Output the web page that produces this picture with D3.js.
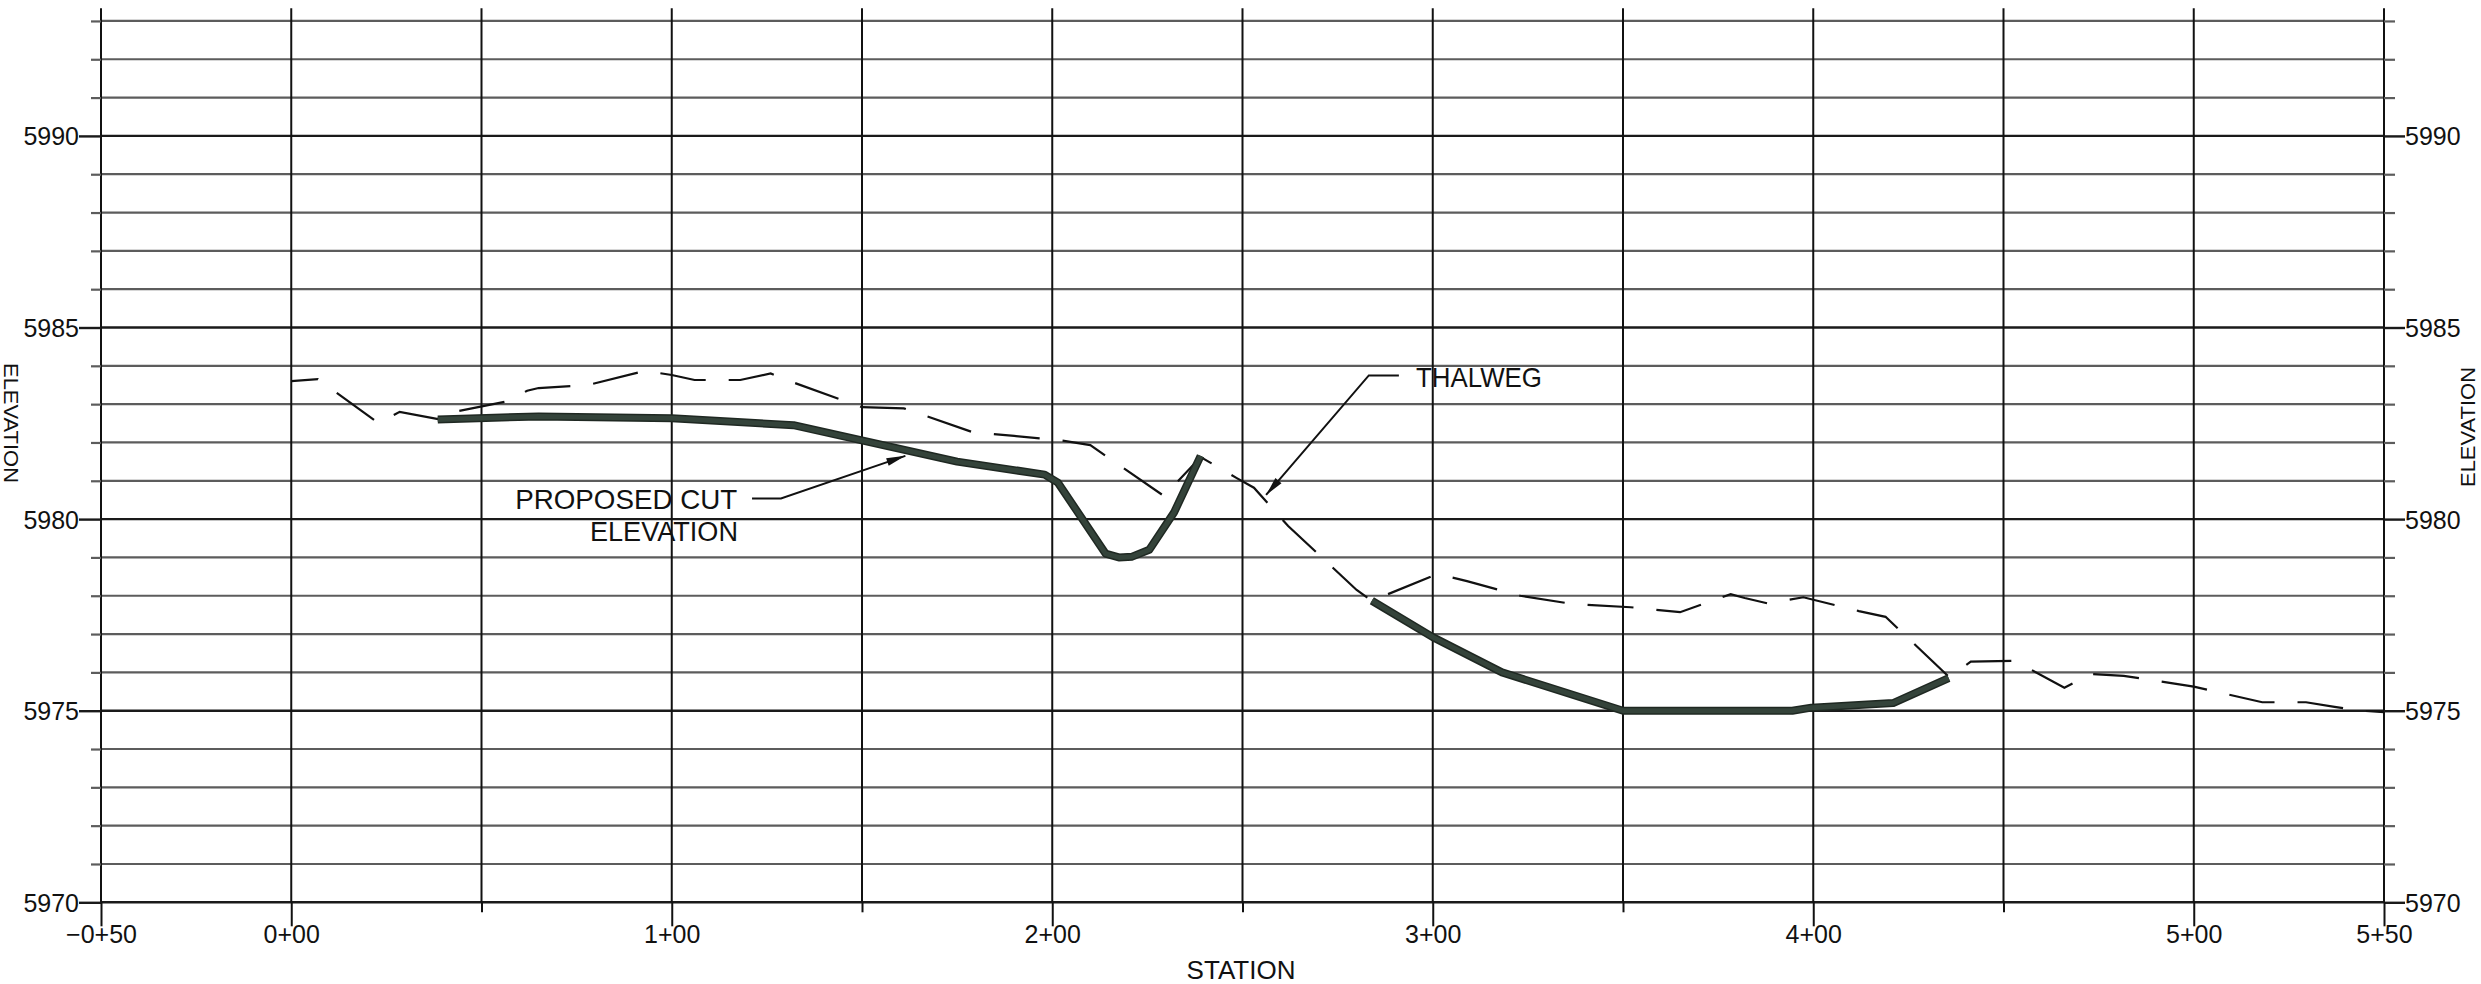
<!DOCTYPE html>
<html><head><meta charset="utf-8">
<script src="https://cdn.jsdelivr.net/npm/d3@7"></script>
<style>
html,body{margin:0;padding:0;background:#fff;}
svg{display:block;background:#fff;}
text{font-family:"Liberation Sans",Arial,Helvetica,sans-serif;fill:#111;}
</style></head><body>
<svg id="chart" width="2481" height="984"></svg>
<script>
// ---------------- data ----------------
const stationTicks  = [-50, 0, 50, 100, 150, 200, 250, 300, 350, 400, 450, 500, 550];
const stationLabels = ["\u22120+50", "0+00", "", "1+00", "", "2+00", "", "3+00", "", "4+00", "", "5+00", "5+50"];

const elevationTicks  = [5970, 5971, 5972, 5973, 5974, 5975, 5976, 5977, 5978, 5979, 5980, 5981,
                         5982, 5983, 5984, 5985, 5986, 5987, 5988, 5989, 5990, 5991, 5992, 5993];
const elevationLabels = ["5970", "", "", "", "", "5975", "", "", "", "", "5980", "",
                         "", "", "", "5985", "", "", "", "", "5990", "", "", ""];

// Proposed cut elevation (two pieces)
const cut1Station   = [38.5, 65, 100, 132, 175, 198, 201.5, 214, 217.5, 221, 225.5, 232, 239];
const cut1Elevation = [5982.60, 5982.68, 5982.63, 5982.45, 5981.50, 5981.16, 5980.95, 5979.10, 5979.00, 5979.02, 5979.20, 5980.17, 5981.65];
const cut2Station   = [284, 300, 318.2, 350, 394.5, 399.5, 421, 435.6];
const cut2Elevation = [5977.87, 5976.92, 5976.00, 5975.00, 5975.00, 5975.08, 5975.20, 5975.85];

// Thalweg (existing ground, dashed)
const thalwegStation   = [0, 7, 23, 28.5, 39, 43, 57, 62, 65, 78, 93, 100, 106, 118, 126, 131,
                          150, 161, 179, 190, 202, 210, 229.4, 239, 248.5, 253, 262, 280, 284,
                          301.3, 309, 323, 337, 352, 365, 378.3, 382, 388, 397.4, 406, 412, 419,
                          435.7, 441.4, 453, 466, 473, 481.6, 500, 518, 529.5, 537, 544, 550];
const thalwegElevation = [5983.60, 5983.65, 5982.50, 5982.80, 5982.60, 5982.80, 5983.08, 5983.35, 5983.42, 5983.50, 5983.87, 5983.76, 5983.63, 5983.63, 5983.80, 5983.60,
                          5982.92, 5982.89, 5982.27, 5982.17, 5982.06, 5981.93, 5980.60, 5981.62, 5981.07, 5980.82, 5979.82, 5978.15, 5977.87,
                          5978.57, 5978.38, 5978.00, 5977.78, 5977.70, 5977.57, 5978.04, 5977.94, 5977.80, 5977.96, 5977.75, 5977.60, 5977.45,
                          5975.88, 5976.28, 5976.30, 5975.60, 5975.96, 5975.91, 5975.63, 5975.22, 5975.22, 5975.10, 5975.00, 5974.96];

// ---------------- chart ----------------
const svg = d3.select("#chart");
const x = d3.scaleLinear().domain([-50, 550]).range([101, 2384]);
const y = d3.scaleLinear().domain([5970, 5993.33]).range([902.3, 8.3]);
const isMajorE = (d, i) => elevationLabels[i] !== "";

// horizontal grid
svg.append("g").selectAll("line").data(elevationTicks).join("line")
  .attr("x1", x(-50)).attr("x2", x(550))
  .attr("y1", d => y(d)).attr("y2", d => y(d))
  .attr("stroke", (d, i) => isMajorE(d, i) ? "#1a1a1a" : "#5c5c5c")
  .attr("stroke-width", (d, i) => isMajorE(d, i) ? 2.4 : 2.2);

// vertical grid
svg.append("g").selectAll("line").data(stationTicks).join("line")
  .attr("x1", d => x(d)).attr("x2", d => x(d))
  .attr("y1", y(5993.33)).attr("y2", y(5970))
  .attr("stroke", "#111").attr("stroke-width", 2);

function styleAxis(g) {
  g.attr("font-family", null).attr("font-size", null);
  g.select(".domain").remove();
}

// left axis
const gL = svg.append("g").attr("transform", `translate(${x(-50)},0)`)
  .call(d3.axisLeft(y).tickValues(elevationTicks).tickFormat((d, i) => elevationLabels[i]).tickSizeOuter(0));
styleAxis(gL);
gL.selectAll(".tick line")
  .attr("x2", (d, i) => isMajorE(d, i) ? -22 : -10)
  .attr("stroke", (d, i) => isMajorE(d, i) ? "#1a1a1a" : "#5c5c5c")
  .attr("stroke-width", (d, i) => isMajorE(d, i) ? 2.4 : 2.2);
gL.selectAll(".tick text").attr("x", -22).attr("dy", "0.36em").style("font-size", "25px");

// right axis
const gR = svg.append("g").attr("transform", `translate(${x(550)},0)`)
  .call(d3.axisRight(y).tickValues(elevationTicks).tickFormat((d, i) => elevationLabels[i]).tickSizeOuter(0));
styleAxis(gR);
gR.selectAll(".tick line")
  .attr("x2", (d, i) => isMajorE(d, i) ? 21 : 11)
  .attr("stroke", (d, i) => isMajorE(d, i) ? "#1a1a1a" : "#5c5c5c")
  .attr("stroke-width", (d, i) => isMajorE(d, i) ? 2.4 : 2.2);
gR.selectAll(".tick text").attr("x", 21).attr("dy", "0.36em").style("font-size", "25px");

// bottom axis
const gB = svg.append("g").attr("transform", `translate(0,${y(5970)})`)
  .call(d3.axisBottom(x).tickValues(stationTicks).tickFormat((d, i) => stationLabels[i]).tickSizeOuter(0));
styleAxis(gB);
gB.selectAll(".tick line")
  .attr("y2", (d, i) => stationLabels[i] ? 24 : 10)
  .attr("stroke", "#111").attr("stroke-width", 2);
gB.selectAll(".tick text").attr("y", 41).attr("dy", 0).style("font-size", "25px");

// axis titles
svg.append("text").attr("x", 1241).attr("y", 979).attr("text-anchor", "middle")
  .style("font-size", "26px").text("STATION");
svg.append("text").attr("transform", "translate(4,423) rotate(90)").attr("text-anchor", "middle")
  .attr("textLength", 120).attr("lengthAdjust", "spacingAndGlyphs")
  .style("font-size", "20px").text("ELEVATION");
svg.append("text").attr("transform", "translate(2475,427) rotate(-90)").attr("text-anchor", "middle")
  .attr("textLength", 120).attr("lengthAdjust", "spacingAndGlyphs")
  .style("font-size", "20px").text("ELEVATION");

// series
const line = d3.line().x(d => x(d[0])).y(d => y(d[1]));
const zip = (a, b) => a.map((v, i) => [v, b[i]]);

svg.append("path").datum(zip(thalwegStation, thalwegElevation))
  .attr("d", line).attr("fill", "none").attr("stroke", "#111")
  .attr("stroke-width", 2.2).attr("stroke-dasharray", "46 23").attr("stroke-dashoffset", 19);

[zip(cut1Station, cut1Elevation), zip(cut2Station, cut2Elevation)].forEach(seg => {
  svg.append("path").datum(seg).attr("d", line).attr("fill", "none")
    .attr("stroke", "#1f2822").attr("stroke-width", 8).attr("stroke-linejoin", "round");
  svg.append("path").datum(seg).attr("d", line).attr("fill", "none")
    .attr("stroke", "#34433a").attr("stroke-width", 5).attr("stroke-linejoin", "round");
});

// annotations (positions in data units)
function arrowHead(tip, from) {
  const tx = x(tip[0]), ty = y(tip[1]), fx = x(from[0]), fy = y(from[1]);
  const dx = tx - fx, dy = ty - fy, L = Math.hypot(dx, dy), ux = dx / L, uy = dy / L;
  const len = 19, hw = 4;
  const bx = tx - ux * len, by = ty - uy * len;
  return `M${tx},${ty}L${bx - uy * hw},${by + ux * hw}L${bx + uy * hw},${by - ux * hw}Z`;
}
const annots = [
  { pts: [[121.1, 5980.54], [128.7, 5980.54], [161.4, 5981.65]] },
  { pts: [[291.1, 5983.75], [283.2, 5983.75], [256.2, 5980.63]] }
];
annots.forEach(a => {
  svg.append("path").attr("d", line(a.pts)).attr("fill", "none").attr("stroke", "#111").attr("stroke-width", 2);
  svg.append("path").attr("d", arrowHead(a.pts[2], a.pts[1])).attr("fill", "#111");
});
svg.append("text").attr("x", x(117.2)).attr("y", y(5980.27)).attr("text-anchor", "end")
  .attr("textLength", 222).attr("lengthAdjust", "spacingAndGlyphs")
  .style("font-size", "28px").text("PROPOSED CUT");
svg.append("text").attr("x", x(117.4)).attr("y", y(5979.43)).attr("text-anchor", "end")
  .attr("textLength", 148).attr("lengthAdjust", "spacingAndGlyphs")
  .style("font-size", "27px").text("ELEVATION");
svg.append("text").attr("x", x(295.6)).attr("y", y(5983.46))
  .attr("textLength", 126).attr("lengthAdjust", "spacingAndGlyphs")
  .style("font-size", "28px").text("THALWEG");
</script>
</body></html>
